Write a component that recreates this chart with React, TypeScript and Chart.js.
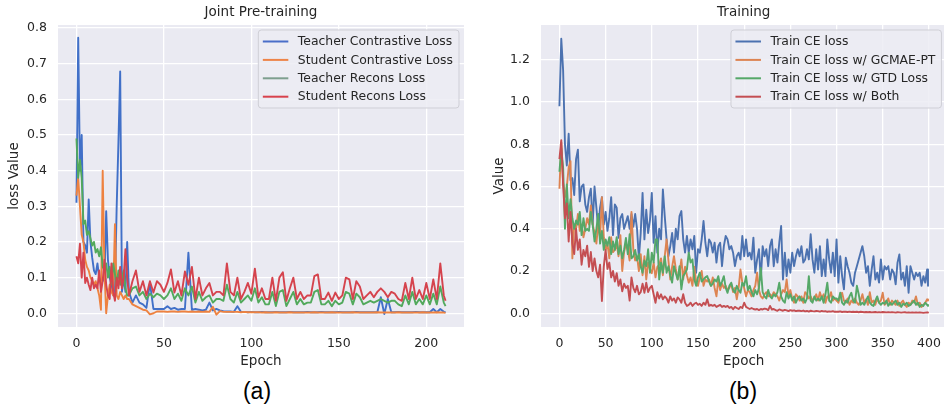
import React, { useEffect, useRef } from 'react';
import { Chart, registerables } from 'chart.js';

Chart.register(...registerables);

const FONT = '"DejaVu Sans", "Liberation Sans", sans-serif';
const TEXT = '#262626';

// ---------- Panel (a): Joint Pre-training ----------
const A_TITLE = 'Joint Pre-training';
const A_XLABEL = 'Epoch';
const A_YLABEL = 'loss Value';
const A_LABELS = ['Teacher Contrastive Loss', 'Student Contrastive Loss', 'Teacher Recons Loss', 'Student Recons Loss'];
const A_X_TICKS = [0, 50, 100, 150, 200];
const A_Y_TICKS = [0, 0.1, 0.2, 0.3, 0.4, 0.5, 0.6, 0.7, 0.8];

// sampled epochs: every epoch up to 29, then every second epoch, then the last one
const A_EPOCHS: number[] = [];
for (let e = 0; e < 30; e++) A_EPOCHS.push(e);
for (let e = 30; e <= 210; e += 2) A_EPOCHS.push(e);
A_EPOCHS.push(211);

const A_TEACHER_CONTRASTIVE = [
  0.31, 0.773, 0.40, 0.50, 0.20, 0.19, 0.17, 0.319, 0.20, 0.156,
  0.12, 0.11, 0.14, 0.10, 0.08, 0.10, 0.09, 0.286, 0.15, 0.10,
  0.08, 0.05, 0.07, 0.30, 0.48, 0.678, 0.06, 0.10, 0.06, 0.20,
  0.06, 0.03, 0.05, 0.03, 0.025, 0.015, 0.085, 0.012, 0.012, 0.012,
  0.012, 0.02, 0.012, 0.015, 0.01, 0.012, 0.012, 0.17, 0.01, 0.012,
  0.01, 0.008, 0.01, 0.03, 0.008, 0.012, 0.008, 0.006, 0.005, 0.005,
  0.004, 0.02, 0.004, 0.004, 0.003, 0.004, 0.003, 0.003, 0.004, 0.003,
  0.003, 0.003, 0.004, 0.003, 0.003, 0.003, 0.004, 0.003, 0.003, 0.003,
  0.003, 0.004, 0.003, 0.003, 0.003, 0.004, 0.003, 0.003, 0.003, 0.003,
  0.004, 0.003, 0.003, 0.003, 0.003, 0.004, 0.003, 0.003, 0.003, 0.003,
  0.003, 0.003, 0.045, -0.002, 0.04, 0.003, 0.003, 0.004, 0.003, 0.003,
  0.003, 0.003, 0.004, 0.003, 0.003, 0.003, 0.003, 0.012, 0.003, 0.012,
  0.004, 0.003,
];
const A_STUDENT_CONTRASTIVE = [
  0.33, 0.38, 0.30, 0.22, 0.20, 0.15, 0.13, 0.12, 0.10, 0.09,
  0.08, 0.09, 0.07, 0.05, 0.01, 0.40, 0.12, 0.00, 0.05, 0.08,
  0.06, 0.05, 0.25, 0.05, 0.04, 0.06, 0.05, 0.04, 0.05, 0.04,
  0.04, 0.025, 0.02, 0.015, 0.01, 0.008, -0.003, 0.0, 0.005, 0.005,
  0.005, 0.004, 0.005, 0.005, 0.004, 0.005, 0.005, 0.004, 0.005, 0.004,
  0.005, 0.004, 0.005, 0.004, 0.018, -0.004, 0.006, 0.004, 0.004, 0.004,
  0.004, 0.004, 0.003, 0.004, 0.003, 0.003, 0.003, 0.003, 0.002, 0.003,
  0.002, 0.002, 0.003, 0.002, 0.002, 0.002, 0.003, 0.002, 0.002, 0.002,
  0.002, 0.002, 0.002, 0.003, 0.002, 0.002, 0.002, 0.002, 0.003, 0.002,
  0.002, 0.002, 0.002, 0.002, 0.003, 0.002, 0.002, 0.002, 0.002, 0.002,
  0.002, 0.003, 0.002, 0.002, 0.002, 0.002, 0.002, 0.003, 0.002, 0.002,
  0.002, 0.002, 0.002, 0.002, 0.003, 0.002, 0.002, 0.002, 0.003, 0.002,
  0.002, 0.001,
];
const A_TEACHER_RECONS = [
  0.49, 0.38, 0.43, 0.38, 0.25, 0.26, 0.22, 0.23, 0.21, 0.19,
  0.20, 0.17, 0.18, 0.16, 0.185, 0.13, 0.12, 0.14, 0.10, 0.13,
  0.08, 0.14, 0.11, 0.08, 0.12, 0.08, 0.10, 0.12, 0.07, 0.05,
  0.05, 0.07, 0.075, 0.05, 0.06, 0.04, 0.055, 0.045, 0.055, 0.05,
  0.04, 0.05, 0.07, 0.04, 0.055, 0.035, 0.07, 0.05, 0.075, 0.03,
  0.06, 0.035, 0.045, 0.05, 0.03, 0.04, 0.04, 0.035, 0.08, 0.04,
  0.03, 0.06, 0.03, 0.04, 0.05, 0.035, 0.07, 0.03, 0.045, 0.025,
  0.025, 0.06, 0.02, 0.06, 0.065, 0.02, 0.04, 0.06, 0.025, 0.04,
  0.025, 0.03, 0.03, 0.06, 0.065, 0.025, 0.025, 0.035, 0.02, 0.035,
  0.025, 0.03, 0.06, 0.055, 0.025, 0.055, 0.045, 0.025, 0.03, 0.035,
  0.03, 0.035, 0.04, 0.035, 0.03, 0.035, 0.035, 0.025, 0.02, 0.05,
  0.025, 0.06, 0.025, 0.04, 0.025, 0.05, 0.025, 0.055, 0.025, 0.075,
  0.03, 0.02,
];
const A_STUDENT_RECONS = [
  0.16, 0.14, 0.195, 0.10, 0.17, 0.085, 0.10, 0.08, 0.065, 0.10,
  0.07, 0.08, 0.07, 0.12, 0.06, 0.09, 0.15, 0.08, 0.05, 0.04,
  0.14, 0.06, 0.035, 0.10, 0.07, 0.13, 0.07, 0.10, 0.18, 0.10,
  0.05, 0.09, 0.12, 0.06, 0.09, 0.05, 0.09, 0.058, 0.09, 0.08,
  0.06, 0.085, 0.123, 0.058, 0.09, 0.05, 0.117, 0.08, 0.13, 0.04,
  0.10, 0.05, 0.07, 0.085, 0.05, 0.06, 0.06, 0.05, 0.14, 0.06,
  0.05, 0.10, 0.04, 0.06, 0.085, 0.055, 0.125, 0.045, 0.07, 0.04,
  0.04, 0.10, 0.035, 0.10, 0.115, 0.035, 0.07, 0.10, 0.04, 0.06,
  0.04, 0.05, 0.05, 0.104, 0.109, 0.04, 0.04, 0.058, 0.035, 0.058,
  0.04, 0.05, 0.10, 0.095, 0.04, 0.09, 0.075, 0.04, 0.05, 0.06,
  0.045, 0.06, 0.07, 0.06, 0.045, 0.06, 0.055, 0.04, 0.035, 0.085,
  0.04, 0.10, 0.04, 0.065, 0.04, 0.085, 0.04, 0.095, 0.04, 0.14,
  0.05, 0.035,
];

// ---------- Panel (b): Training ----------
const B_TITLE = 'Training';
const B_XLABEL = 'Epoch';
const B_YLABEL = 'Value';
const B_LABELS = ['Train CE loss', 'Train CE loss w/ GCMAE-PT', 'Train CE loss w/ GTD Loss', 'Train CE loss w/ Both'];
const B_X_TICKS = [0, 50, 100, 150, 200, 250, 300, 350, 400];
const B_Y_TICKS = [0, 0.2, 0.4, 0.6, 0.8, 1.0, 1.2];

// sampled epochs: every second epoch, then the last one
const B_EPOCHS: number[] = [];
for (let e = 0; e <= 398; e += 2) B_EPOCHS.push(e);
B_EPOCHS.push(399);

const B_CE = [
  0.98, 1.30, 1.15, 0.80, 0.70, 0.85, 0.63, 0.64, 0.56, 0.73,
  0.775, 0.53, 0.60, 0.61, 0.515, 0.48, 0.55, 0.59, 0.42, 0.60,
  0.50, 0.40, 0.50, 0.55, 0.42, 0.48, 0.39, 0.45, 0.55, 0.37,
  0.515, 0.50, 0.357, 0.45, 0.47, 0.40, 0.43, 0.46, 0.40, 0.47,
  0.41, 0.47, 0.40, 0.26, 0.38, 0.57, 0.35, 0.49, 0.38, 0.44,
  0.57, 0.334, 0.46, 0.287, 0.40, 0.35, 0.586, 0.46, 0.35, 0.27,
  0.318, 0.38, 0.287, 0.40, 0.35, 0.46, 0.484, 0.35, 0.287, 0.366,
  0.287, 0.35, 0.303, 0.366, 0.192, 0.303, 0.287, 0.35, 0.437, 0.334,
  0.27, 0.35, 0.334, 0.287, 0.334, 0.24, 0.318, 0.334, 0.223, 0.318,
  0.366, 0.35, 0.303, 0.318, 0.287, 0.223, 0.27, 0.287, 0.255, 0.366,
  0.27, 0.35, 0.27, 0.287, 0.255, 0.358, 0.192, 0.255, 0.303, 0.16,
  0.318, 0.27, 0.303, 0.223, 0.318, 0.35, 0.223, 0.303, 0.24, 0.334,
  0.413, 0.16, 0.287, 0.176, 0.255, 0.192, 0.287, 0.223, 0.27, 0.303,
  0.27, 0.318, 0.24, 0.255, 0.303, 0.255, 0.374, 0.255, 0.192, 0.303,
  0.207, 0.318, 0.176, 0.255, 0.176, 0.35, 0.255, 0.192, 0.287, 0.176,
  0.35, 0.145, 0.27, 0.176, 0.113, 0.263, 0.223, 0.192, 0.145, 0.13,
  0.192, 0.223, 0.255, 0.287, 0.318, 0.27, 0.192, 0.223, 0.13, 0.207,
  0.27, 0.16, 0.192, 0.145, 0.255, 0.16, 0.223, 0.207, 0.223, 0.16,
  0.207, 0.192, 0.137, 0.24, 0.279, 0.16, 0.192, 0.13, 0.223, 0.097,
  0.223, 0.192, 0.16, 0.192, 0.176, 0.192, 0.13, 0.176, 0.145, 0.207,
  0.13,
];
const B_CE_GCMAE = [
  0.59, 0.81, 0.62, 0.55, 0.60, 0.69, 0.72, 0.26, 0.42, 0.40,
  0.47, 0.39, 0.42, 0.36, 0.40, 0.45, 0.42, 0.51, 0.42, 0.38,
  0.33, 0.42, 0.36, 0.55, 0.36, 0.30, 0.33, 0.26, 0.36, 0.29,
  0.30, 0.33, 0.27, 0.37, 0.20, 0.29, 0.33, 0.30, 0.25, 0.48,
  0.30, 0.25, 0.27, 0.20, 0.28, 0.18, 0.27, 0.16, 0.24, 0.21,
  0.19, 0.24, 0.17, 0.22, 0.23, 0.26, 0.18, 0.27, 0.35, 0.25,
  0.16, 0.22, 0.27, 0.21, 0.16, 0.19, 0.255, 0.16, 0.22, 0.18,
  0.145, 0.17, 0.13, 0.22, 0.15, 0.13, 0.17, 0.20, 0.13, 0.16,
  0.15, 0.16, 0.13, 0.17, 0.12, 0.08, 0.16, 0.11, 0.14, 0.12,
  0.13, 0.11, 0.12, 0.14, 0.10, 0.12, 0.066, 0.12, 0.207, 0.145,
  0.12, 0.08, 0.11, 0.10, 0.08, 0.11, 0.13, 0.192, 0.11, 0.08,
  0.07, 0.09, 0.10, 0.08, 0.09, 0.08, 0.10, 0.09, 0.08, 0.06,
  0.09, 0.11, 0.10, 0.16, 0.08, 0.11, 0.07, 0.05, 0.09, 0.08,
  0.06, 0.08, 0.05, 0.10, 0.09, 0.07, 0.08, 0.06, 0.07, 0.09,
  0.06, 0.10, 0.07, 0.09, 0.05, 0.08, 0.07, 0.10, 0.06, 0.07,
  0.06, 0.05, 0.08, 0.097, 0.06, 0.05, 0.07, 0.04, 0.06, 0.05,
  0.07, 0.05, 0.04, 0.06, 0.09, 0.05, 0.066, 0.04, 0.10, 0.05,
  0.06, 0.04, 0.07, 0.05, 0.06, 0.097, 0.04, 0.05, 0.07, 0.04,
  0.06, 0.05, 0.04, 0.06, 0.035, 0.05, 0.06, 0.04, 0.03, 0.05,
  0.04, 0.06, 0.05, 0.08, 0.04, 0.05, 0.03, 0.04, 0.05, 0.066,
  0.06,
];
const B_CE_GTD = [
  0.67, 0.78, 0.69, 0.40, 0.61, 0.45, 0.54, 0.45, 0.40, 0.44,
  0.42, 0.48, 0.37, 0.45, 0.39, 0.40, 0.39, 0.48, 0.42, 0.34,
  0.40, 0.47, 0.33, 0.39, 0.30, 0.35, 0.32, 0.36, 0.28, 0.34,
  0.30, 0.36, 0.28, 0.32, 0.26, 0.30, 0.357, 0.28, 0.374, 0.26,
  0.27, 0.30, 0.25, 0.28, 0.22, 0.192, 0.25, 0.223, 0.303, 0.192,
  0.287, 0.24, 0.35, 0.35, 0.16, 0.24, 0.192, 0.27, 0.192, 0.223,
  0.18, 0.145, 0.223, 0.19, 0.16, 0.223, 0.113, 0.176, 0.19, 0.207,
  0.287, 0.24, 0.255, 0.16, 0.13, 0.17, 0.192, 0.15, 0.16, 0.17,
  0.176, 0.15, 0.13, 0.14, 0.16, 0.15, 0.176, 0.13, 0.15, 0.176,
  0.12, 0.097, 0.13, 0.145, 0.11, 0.097, 0.13, 0.11, 0.097, 0.145,
  0.13, 0.176, 0.11, 0.13, 0.10, 0.08, 0.11, 0.09, 0.12, 0.215,
  0.10, 0.08, 0.07, 0.11, 0.08, 0.07, 0.09, 0.08, 0.10, 0.145,
  0.08, 0.06, 0.05, 0.10, 0.07, 0.09, 0.06, 0.08, 0.05, 0.07,
  0.08, 0.06, 0.07, 0.05, 0.07, 0.176, 0.06, 0.05, 0.08, 0.06,
  0.07, 0.06, 0.08, 0.05, 0.09, 0.145, 0.06, 0.05, 0.08, 0.07,
  0.07, 0.06, 0.097, 0.05, 0.04, 0.06, 0.05, 0.08, 0.097, 0.06,
  0.05, 0.13, 0.09, 0.04, 0.05, 0.04, 0.06, 0.08, 0.05, 0.04,
  0.035, 0.06, 0.08, 0.05, 0.04, 0.05, 0.045, 0.06, 0.035, 0.05,
  0.04, 0.05, 0.06, 0.04, 0.05, 0.03, 0.045, 0.04, 0.05, 0.035,
  0.04, 0.05, 0.06, 0.04, 0.05, 0.03, 0.04, 0.035, 0.05, 0.04,
  0.035,
];
const B_CE_BOTH = [
  0.73, 0.82, 0.61, 0.45, 0.52, 0.34, 0.48, 0.33, 0.28, 0.40,
  0.30, 0.35, 0.23, 0.30, 0.27, 0.32, 0.22, 0.29, 0.20, 0.26,
  0.20, 0.17, 0.23, 0.058, 0.22, 0.30, 0.21, 0.24, 0.17, 0.20,
  0.15, 0.19, 0.13, 0.16, 0.104, 0.14, 0.12, 0.13, 0.06, 0.17,
  0.12, 0.10, 0.13, 0.09, 0.10, 0.14, 0.097, 0.145, 0.10, 0.12,
  0.13, 0.09, 0.05, 0.10, 0.07, 0.09, 0.066, 0.08, 0.07, 0.05,
  0.08, 0.06, 0.07, 0.05, 0.075, 0.066, 0.05, 0.09, 0.05, 0.035,
  0.04, 0.05, 0.035, 0.045, 0.05, 0.04, 0.045, 0.035, 0.05, 0.04,
  0.066, 0.035, 0.04, 0.035, 0.04, 0.03, 0.035, 0.04, 0.03, 0.035,
  0.03, 0.035, 0.025, 0.03, 0.019, 0.03, 0.025, 0.02, 0.03, 0.025,
  0.05, 0.03, 0.025, 0.02, 0.025, 0.02, 0.018, 0.02, 0.015, 0.02,
  0.018, 0.022, 0.02, 0.015, 0.035, 0.018, 0.02, 0.015, 0.012, 0.018,
  0.015, 0.012, 0.016, 0.014, 0.01, 0.015, 0.012, 0.014, 0.01, 0.012,
  0.012, 0.01, 0.013, 0.009, 0.011, 0.008, 0.012, 0.01, 0.009, 0.011,
  0.01, 0.008, 0.011, 0.009, 0.01, 0.007, 0.009, 0.008, 0.01, 0.007,
  0.008, 0.007, 0.009, 0.006, 0.008, 0.007, 0.006, 0.008, 0.006, 0.007,
  0.006, 0.007, 0.005, 0.007, 0.006, 0.005, 0.006, 0.005, 0.006, 0.004,
  0.005, 0.006, 0.004, 0.005, 0.004, 0.006, 0.005, 0.004, 0.005, 0.004,
  0.005, 0.004, 0.003, 0.005, 0.004, 0.003, 0.004, 0.005, 0.003, 0.004,
  0.003, 0.004, 0.003, 0.004, 0.003, 0.004, 0.003, 0.002, 0.003, 0.004,
  0.003,
];

type Panel = {
  title: string;
  xLabel: string;
  yLabel: string;
  labels: string[];
  epochs: number[];
  series: number[][];
  colors: string[];
  legendColors: string[];
  xTicks: number[];
  yTicks: number[];
  xMin: number; xMax: number; yMin: number; yMax: number;
  yAxisWidth: number;
  yTitlePad: number;
  padRight: number;
};

function decorPlugin(p: Panel) {
  return {
    id: 'decor',
    beforeDraw(chart: any) {
      const { ctx, chartArea: a } = chart;
      ctx.save();
      ctx.fillStyle = '#EAEAF2';
      ctx.fillRect(a.left, a.top, a.right - a.left, a.bottom - a.top);
      ctx.restore();
    },
    afterDraw(chart: any) {
      const { ctx, chartArea: a } = chart;
      ctx.save();
      // title centred over the axes
      ctx.fillStyle = TEXT;
      ctx.font = `13.5px ${FONT}`;
      ctx.textAlign = 'center';
      ctx.textBaseline = 'middle';
      ctx.fillText(p.title, (a.left + a.right) / 2, 12.5);
      // legend, upper right inside the axes
      ctx.font = `12.4px ${FONT}`;
      const textW = Math.max(...p.labels.map((l) => ctx.measureText(l).width));
      const boxW = 4.5 + 25.5 + 9.5 + textW + 6;
      const boxH = 78;
      const bx = a.right - 5 - boxW;
      const by = a.top + 5;
      const r = 3;
      ctx.beginPath();
      ctx.moveTo(bx + r, by);
      ctx.lineTo(bx + boxW - r, by);
      ctx.quadraticCurveTo(bx + boxW, by, bx + boxW, by + r);
      ctx.lineTo(bx + boxW, by + boxH - r);
      ctx.quadraticCurveTo(bx + boxW, by + boxH, bx + boxW - r, by + boxH);
      ctx.lineTo(bx + r, by + boxH);
      ctx.quadraticCurveTo(bx, by + boxH, bx, by + boxH - r);
      ctx.lineTo(bx, by + r);
      ctx.quadraticCurveTo(bx, by, bx + r, by);
      ctx.closePath();
      ctx.fillStyle = 'rgba(236,236,243,0.85)';
      ctx.fill();
      ctx.strokeStyle = '#CFCFD6';
      ctx.lineWidth = 1;
      ctx.stroke();
      ctx.textAlign = 'left';
      ctx.textBaseline = 'middle';
      p.labels.forEach((l, i) => {
        const y = by + 11.5 + i * 18.4;
        ctx.strokeStyle = p.legendColors[i];
        ctx.lineWidth = 2;
        ctx.beginPath();
        ctx.moveTo(bx + 4.5, y);
        ctx.lineTo(bx + 30, y);
        ctx.stroke();
        ctx.fillStyle = TEXT;
        ctx.fillText(l, bx + 39.5, y + 0.5);
      });
      ctx.restore();
    },
  };
}

function buildChart(canvas: HTMLCanvasElement, p: Panel) {
  const datasets = p.series.map((vals, i) => ({
    label: p.labels[i],
    data: p.epochs.map((x, j) => ({ x, y: vals[j] })),
    borderColor: p.colors[i],
    backgroundColor: p.colors[i],
    borderWidth: 1.9,
    pointRadius: 0,
    tension: 0,
    fill: false,
    borderJoinStyle: 'round',
    order: p.series.length - i,
  }));
  return new Chart(canvas, {
    type: 'line',
    data: { datasets } as any,
    options: {
      responsive: false,
      animation: false,
      devicePixelRatio: 1,
      layout: { padding: { left: 0, right: p.padRight, top: 25, bottom: 0 } },
      plugins: {
        legend: { display: false },
        tooltip: { enabled: false },
        title: { display: false },
      },
      scales: {
        x: {
          type: 'linear',
          min: p.xMin,
          max: p.xMax,
          afterBuildTicks: (s: any) => { s.ticks = p.xTicks.map((v) => ({ value: v })); },
          afterFit: (s: any) => { s.height = 48; },
          grid: { color: '#FFFFFF', lineWidth: 1.3, drawTicks: false },
          border: { display: false },
          ticks: {
            padding: 9,
            color: TEXT,
            font: { family: FONT, size: 12.5 },
            autoSkip: false,
            maxRotation: 0,
            callback: (v: any) => String(v),
          },
          title: {
            display: true,
            text: p.xLabel,
            color: TEXT,
            font: { family: FONT, size: 13.5 },
            padding: { top: 0, bottom: 5 },
          },
        },
        y: {
          type: 'linear',
          min: p.yMin,
          max: p.yMax,
          afterBuildTicks: (s: any) => { s.ticks = p.yTicks.map((v) => ({ value: v })); },
          afterFit: (s: any) => { s.width = p.yAxisWidth; },
          grid: { color: '#FFFFFF', lineWidth: 1.3, drawTicks: false },
          border: { display: false },
          ticks: {
            padding: 11,
            color: TEXT,
            font: { family: FONT, size: 12.5 },
            autoSkip: false,
            callback: (v: any) => Number(v).toFixed(1),
          },
          title: {
            display: true,
            text: p.yLabel,
            color: TEXT,
            font: { family: FONT, size: 13.5 },
            padding: { top: p.yTitlePad, bottom: 0 },
          },
        },
      },
    } as any,
    plugins: [decorPlugin(p)],
  });
}

const PANEL_A: Panel = {
  title: A_TITLE,
  xLabel: A_XLABEL,
  yLabel: A_YLABEL,
  labels: A_LABELS,
  epochs: A_EPOCHS,
  series: [A_TEACHER_CONTRASTIVE, A_STUDENT_CONTRASTIVE, A_TEACHER_RECONS, A_STUDENT_RECONS],
  colors: ['#4170C8', '#EE8240', '#52A95C', '#D5434D'],
  legendColors: ['#4A6EC8', '#EE8448', '#7E9F8E', '#D8424C'],
  xTicks: A_X_TICKS,
  yTicks: A_Y_TICKS,
  xMin: -10.55, xMax: 221.55, yMin: -0.0385, yMax: 0.8085,
  yAxisWidth: 58,
  yTitlePad: 6,
  padRight: 8,
};

const PANEL_B: Panel = {
  title: B_TITLE,
  xLabel: B_XLABEL,
  yLabel: B_YLABEL,
  labels: B_LABELS,
  epochs: B_EPOCHS,
  series: [B_CE, B_CE_GCMAE, B_CE_GTD, B_CE_BOTH],
  colors: ['#4C72B0', '#DD8452', '#55A868', '#C44E52'],
  legendColors: ['#4C72B0', '#DD8452', '#55A868', '#C44E52'],
  xTicks: B_X_TICKS,
  yTicks: B_Y_TICKS,
  xMin: -19.95, xMax: 418.95, yMin: -0.065, yMax: 1.365,
  yAxisWidth: 61,
  yTitlePad: 11,
  padRight: 3.5,
};

const captionStyle = (cx: number): React.CSSProperties => ({
  position: 'absolute',
  left: cx - 40,
  top: 376,
  width: 80,
  height: 30,
  lineHeight: '30px',
  textAlign: 'center',
  fontFamily: '"Liberation Sans", Arial, sans-serif',
  fontSize: 23,
  color: '#000',
});

export default function App() {
  const refA = useRef<HTMLCanvasElement>(null);
  const refB = useRef<HTMLCanvasElement>(null);

  useEffect(() => {
    const a = buildChart(refA.current!, PANEL_A);
    const b = buildChart(refB.current!, PANEL_B);
    return () => {
      a.destroy();
      b.destroy();
    };
  }, []);

  return (
    <div style={{ position: 'fixed', left: 0, top: 0, width: 944, height: 405, overflow: 'hidden', background: '#FFFFFF' }}>
      <canvas ref={refA} width={472} height={375} style={{ position: 'absolute', left: 0, top: 0 }} />
      <canvas ref={refB} width={470} height={375} style={{ position: 'absolute', left: 480, top: 0 }} />
      <div style={captionStyle(257)}>(a)</div>
      <div style={captionStyle(743)}>(b)</div>
    </div>
  );
}
